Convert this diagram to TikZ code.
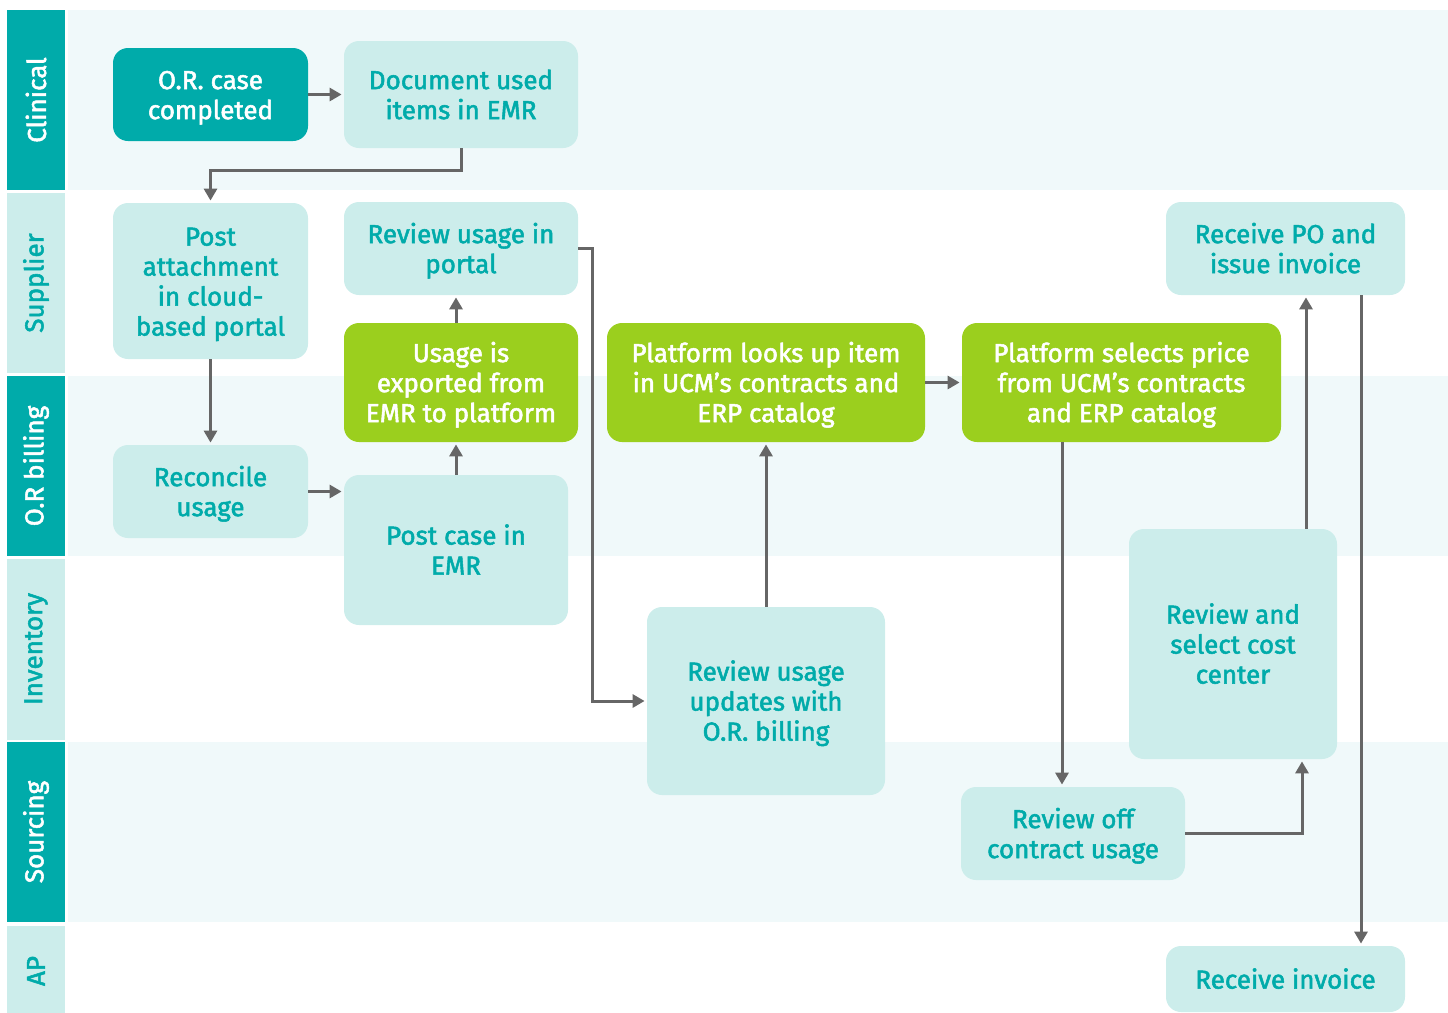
\documentclass[tikz,border=0pt]{standalone}
\usepackage{fontspec}
\setmainfont{Fira Sans}[FakeBold=2]
\usetikzlibrary{arrows.meta,calc}

\definecolor{tealdark}{HTML}{00ABAA}
\definecolor{teallight}{HTML}{CCEDEB}
\definecolor{lanebg}{HTML}{F0F9FA}
\definecolor{limegreen}{HTML}{9BCF1E}
\definecolor{flowgray}{HTML}{666666}

% struts for first and last line of a box
\newcommand{\tp}{\rule{0pt}{13pt}}
\newcommand{\bt}{\rule[-3.4pt]{0pt}{3.4pt}}

\begin{document}
\begin{tikzpicture}[x=0.5pt,y=-0.5pt,
  every node/.style={font=\fontsize{13}{15}\selectfont},
  box/.style 2 args={rounded corners=7.5pt,inner sep=0pt,align=center,
    minimum width=#1*0.5pt,minimum height=#2*0.5pt},
  lightbox/.style={fill=teallight,text=tealdark},
  darkbox/.style={fill=tealdark,text=white},
  greenbox/.style={fill=limegreen,text=white},
  flow/.style={draw=flowgray,line width=1.5pt,
    -{Triangle[width=6.5pt,length=6pt]},shorten >=1pt}]
\useasboundingbox (0,0) rectangle (1448,1013);

% lanes
\fill[lanebg] (68,10) rectangle (1448,190);
\fill[lanebg] (68,376) rectangle (1448,556);
\fill[lanebg] (68,742) rectangle (1448,922);

\fill[tealdark]  (7,10) rectangle (65,190);
\fill[teallight] (7,193) rectangle (65,373);
\fill[tealdark]  (7,376) rectangle (65,556);
\fill[teallight] (7,559) rectangle (65,740);
\fill[tealdark]  (7,742) rectangle (65,922);
\fill[teallight] (7,926) rectangle (65,1013);

\node[rotate=90,text=white]    (lclin) at (36,100) {Clinical};
\node[rotate=90,text=tealdark] (lsupp) at (36,283) {Supplier};
\node[rotate=90,text=white]    (lbill) at (36,466) {O.R billing};
\node[rotate=90,text=tealdark] (linv)  at (36,649) {Inventory};
\node[rotate=90,text=white]    (lsrc)  at (36,832) {Sourcing};
\node[rotate=90,text=tealdark] (lap)   at (36,971) {AP};

% steps
\node[box={195}{93},darkbox]   (orcase)    at (210.5,94.5) {\tp O.R. case\\completed\bt};
\node[box={234}{107},lightbox] (docemr)    at (461,94.5)   {\tp Document used\\items in EMR\bt};
\node[box={195}{156},lightbox] (postatt)   at (210.5,281)  {\tp Post\\attachment\\in cloud-\\based portal\bt};
\node[box={234}{93},lightbox]  (revportal) at (461,248.5)  {\tp Review usage in\\portal\bt};
\node[box={234}{119},greenbox] (usageexp)  at (461,382.5)  {\tp Usage is\\exported from\\EMR to platform\bt};
\node[box={318}{119},greenbox] (lookup)    at (766,382.5)  {\tp Platform looks up item\\in UCM’s contracts and\\ERP catalog\bt};
\node[box={319}{119},greenbox] (selprice)  at (1121.5,382.5) {\tp Platform selects price\\from UCM’s contracts\\and ERP catalog\bt};
\node[box={239}{93},lightbox]  (recpo)     at (1285.5,248.5) {\tp Receive PO and\\issue invoice\bt};
\node[box={195}{93},lightbox]  (reconcile) at (210.5,491.5) {\tp Reconcile\\usage\bt};
\node[box={224}{150},lightbox] (postcase)  at (456,550)    {\tp Post case in\\EMR\bt};
\node[box={238}{188},lightbox] (revupd)    at (766,701)    {\tp Review usage\\updates with\\O.R. billing\bt};
\node[box={208}{230},lightbox] (costctr)   at (1233,644)   {\tp Review and\\select cost\\center\bt};
\node[box={224}{93},lightbox]  (revoff)    at (1073,833.5) {\tp Review off\\contract usage\bt};
\node[box={239}{66},lightbox]  (recinv)    at (1285.5,979) {\tp Receive invoice\bt};

% connectors
\coordinate (poin)  at ($(recpo.south)+(20.5,0)$);
\coordinate (poout) at ($(recpo.south)+(75.5,0)$);
\coordinate (offin) at ($(revoff.north)+(-11,0)$);
\coordinate (ccin)  at ($(costctr.south)+(69,0)$);
\coordinate (ccout) at ($(costctr.north)+(73,0)$);

\draw[flow] (orcase.east) -- (docemr.west |- orcase.east);
\draw[flow] (docemr.south) -- ++(0,22) -| (postatt.north);
\draw[flow] (postatt.south) -- (reconcile.north);
\draw[flow] (reconcile.east) -- (postcase.west |- reconcile.east);
\draw[flow] (postcase.north) -- (postcase.north |- usageexp.south);
\draw[flow] (postcase.north |- usageexp.north) -- (postcase.north |- revportal.south);
\draw[flow] (revportal.east) -- ++(14,0) |- (revupd.west);
\draw[flow] (revupd.north) -- (lookup.south);
\draw[flow] (lookup.east) -- (selprice.west);
\draw[flow] (offin |- selprice.south) -- (offin);
\draw[flow] (revoff.east) -| (ccin);
\draw[flow] (ccout |- costctr.north) -- (ccout |- poin);
\draw[flow] (poout) -- (poout |- recinv.north);
\end{tikzpicture}
\end{document}
